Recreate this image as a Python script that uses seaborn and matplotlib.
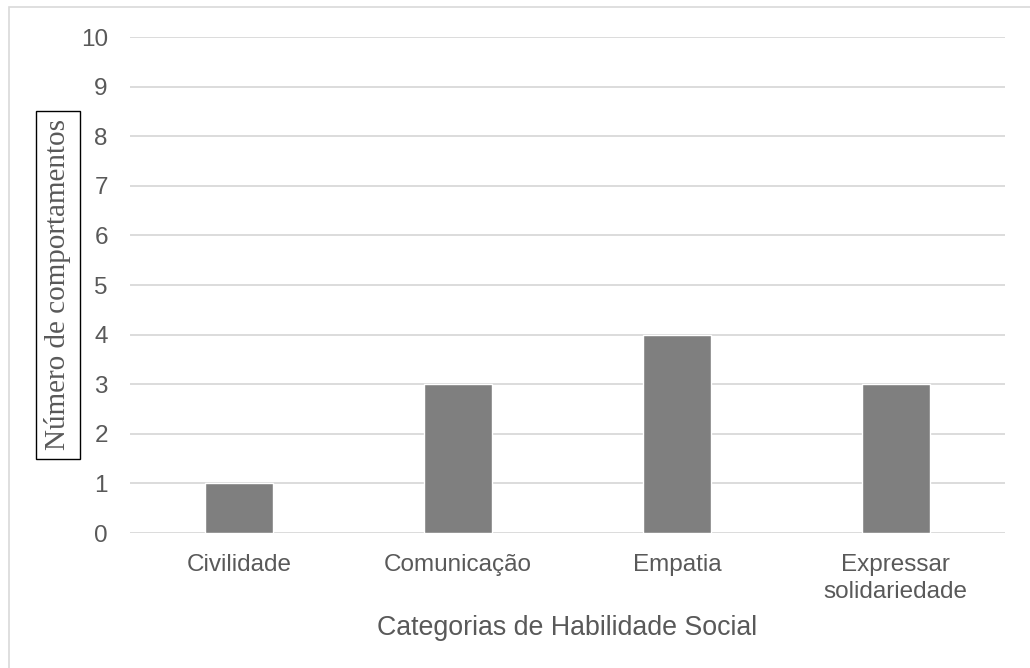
import matplotlib
matplotlib.use("Agg")
import matplotlib.pyplot as plt
from matplotlib.patches import Rectangle
import seaborn as sns
import pandas as pd

categorias = ["Civilidade", "Comunicação", "Empatia", "Expressar\nsolidariedade"]
comportamentos = [1, 3, 4, 3]
y_ticks = list(range(0, 11))

TEXT = "#595959"
BAR = "#7f7f7f"
GRID = "#d9d9d9"

sns.set_theme(style="white")
plt.rcParams["font.family"] = ["Liberation Sans", "DejaVu Sans"]

df = pd.DataFrame({"categoria": categorias, "n": comportamentos})

W, H = 1030, 668
fig = plt.figure(figsize=(W / 100, H / 100), dpi=100)
ax = fig.add_axes([130 / W, 1 - 533 / H, (1005 - 130) / W, (533 - 37) / H])

# light frame around the chart area
fig.patches.append(Rectangle((9 / W, -0.05), 1.2, (H - 7) / H + 0.05,
                             transform=fig.transFigure, fill=False,
                             edgecolor="#d9d9d9", linewidth=1.2))

sns.barplot(data=df, x="categoria", y="n", color=BAR, saturation=1,
            width=0.31, ax=ax, zorder=3)

ax.set_ylim(0, 10)
ax.set_yticks(y_ticks)
ax.yaxis.grid(True, color=GRID, linewidth=1.3, zorder=0)
ax.set_axisbelow(True)
for s in ax.spines.values():
    s.set_visible(False)
ax.tick_params(axis="both", length=0, labelsize=17.5, colors=TEXT)
ax.tick_params(axis="y", pad=16)
ax.tick_params(axis="x", pad=15)
for lbl in ax.get_xticklabels():
    lbl.set_linespacing(1.28)
ax.set_xlabel("")
ax.set_ylabel("")

fig.text(567 / W, 1 - 628 / H, "Categorias de Habilidade Social",
         ha="center", va="center", fontsize=19.3, color=TEXT)

fig.text(58 / W, 1 - 285 / H, "Número de comportamentos", rotation=90,
         ha="center", va="center", fontsize=21, color=TEXT,
         family=["Liberation Serif", "DejaVu Serif"],
         bbox=dict(boxstyle="square,pad=0.3", facecolor="white",
                   edgecolor="black", linewidth=1.0))

fig.savefig("out.png", dpi=100, facecolor="white")
